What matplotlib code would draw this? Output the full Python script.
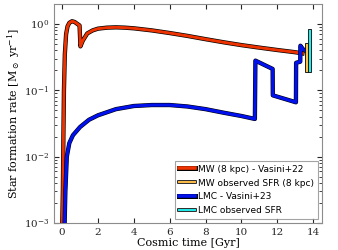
import matplotlib
matplotlib.use("Agg")
import matplotlib.pyplot as plt
import matplotlib.patheffects as pe
from matplotlib.lines import Line2D

plt.rcParams["font.family"] = "DejaVu Serif"
plt.rcParams["mathtext.fontset"] = "dejavuserif"

# MW (8 kpc) model SFR
mw_t = [0.0, 0.04, 0.07, 0.10, 0.15, 0.22, 0.30, 0.40, 0.55, 0.70, 0.85, 0.97,
        1.02, 1.15, 1.40, 1.70, 2.00, 2.50, 3.00, 3.50, 4.00, 5.00, 6.00, 7.00,
        8.00, 9.00, 10.0, 11.0, 12.0, 13.0, 13.4]
mw_sfr = [0.0008, 0.003, 0.02, 0.10, 0.35, 0.70, 0.92, 1.04, 1.10, 1.07, 1.0, 0.95,
          0.46, 0.56, 0.72, 0.80, 0.85, 0.88, 0.89, 0.88, 0.86, 0.80, 0.73, 0.66,
          0.59, 0.53, 0.48, 0.44, 0.405, 0.375, 0.36]

# LMC model SFR
lmc_t = [0.13, 0.18, 0.26, 0.40, 0.60, 1.0, 1.5, 2.0, 3.0, 4.0, 5.0, 6.0, 7.0,
         8.0, 9.0, 10.0, 10.75, 10.78, 11.74, 11.75, 13.04, 13.05, 13.28, 13.29,
         13.45, 13.55]
lmc_sfr = [0.0008, 0.003, 0.010, 0.016, 0.021, 0.028, 0.036, 0.042, 0.052, 0.058,
           0.060, 0.060, 0.057, 0.052, 0.046, 0.041, 0.037, 0.28, 0.21, 0.084,
           0.066, 0.26, 0.27, 0.47, 0.41, 0.40]

# observed present-day SFR ranges [t_left, width, low, high]
mw_obs = [13.52, 0.17, 0.19, 0.51]
lmc_obs = [13.72, 0.17, 0.19, 0.84]

labels = ["MW (8 kpc) - Vasini+22", "MW observed SFR (8 kpc)",
          "LMC - Vasini+23", "LMC observed SFR"]
c_mw, c_mwobs, c_lmc, c_lmcobs = "#ee3300", "#ffbf4a", "#0011ee", "#22eeee"

fig = plt.figure(figsize=(3.38, 2.5), dpi=100)
ax = fig.add_axes([0.160, 0.108, 0.793, 0.876])

outline = [pe.Stroke(linewidth=3.1, foreground="k"), pe.Normal()]
ax.plot(mw_t, mw_sfr, color=c_mw, lw=2.1, path_effects=outline, zorder=3)
ax.plot(lmc_t, lmc_sfr, color=c_lmc, lw=2.3, path_effects=outline, zorder=4)

ax.bar(mw_obs[0], mw_obs[3] - mw_obs[2], width=mw_obs[1], bottom=mw_obs[2],
       align="edge", color=c_mwobs, edgecolor="k", lw=0.6, zorder=5)
ax.bar(lmc_obs[0], lmc_obs[3] - lmc_obs[2], width=lmc_obs[1], bottom=lmc_obs[2],
       align="edge", color=c_lmcobs, edgecolor="k", lw=0.6, zorder=5)

ax.set_yscale("log")
ax.set_xlim(-0.45, 14.5)
ax.set_ylim(1e-3, 2)
ax.set_xticks([0, 2, 4, 6, 8, 10, 12, 14])
ax.tick_params(which="both", direction="in", top=True, right=True,
               labelsize=7.5, colors="0.15")
ax.tick_params(which="major", length=3.5)
ax.tick_params(which="minor", length=2)
for s in ax.spines.values():
    s.set_color("0.55")

ax.set_xlabel("Cosmic time [Gyr]", fontsize=8, labelpad=1)
ax.set_ylabel(r"Star formation rate [M$_\odot$ yr$^{-1}$]", fontsize=8, labelpad=1)

handles = [
    Line2D([], [], color=c_mw, lw=2.6, path_effects=[pe.Stroke(linewidth=3.6, foreground="k"), pe.Normal()]),
    Line2D([], [], color=c_mwobs, lw=1.4, path_effects=[pe.Stroke(linewidth=2.6, foreground="k"), pe.Normal()]),
    Line2D([], [], color=c_lmc, lw=2.6, path_effects=[pe.Stroke(linewidth=3.6, foreground="k"), pe.Normal()]),
    Line2D([], [], color=c_lmcobs, lw=1.4, path_effects=[pe.Stroke(linewidth=2.6, foreground="k"), pe.Normal()]),
]
leg = ax.legend(handles, labels, loc="lower right", fancybox=False,
                prop={"family": "DejaVu Sans", "size": 6.5},
                handlelength=1.8, handletextpad=0.4, labelspacing=0.55,
                borderpad=0.4, borderaxespad=0,
                bbox_to_anchor=(0.985, 0.018))
leg.get_frame().set_edgecolor("0.55")
leg.get_frame().set_linewidth(0.8)

fig.savefig("out.png", dpi=100)
